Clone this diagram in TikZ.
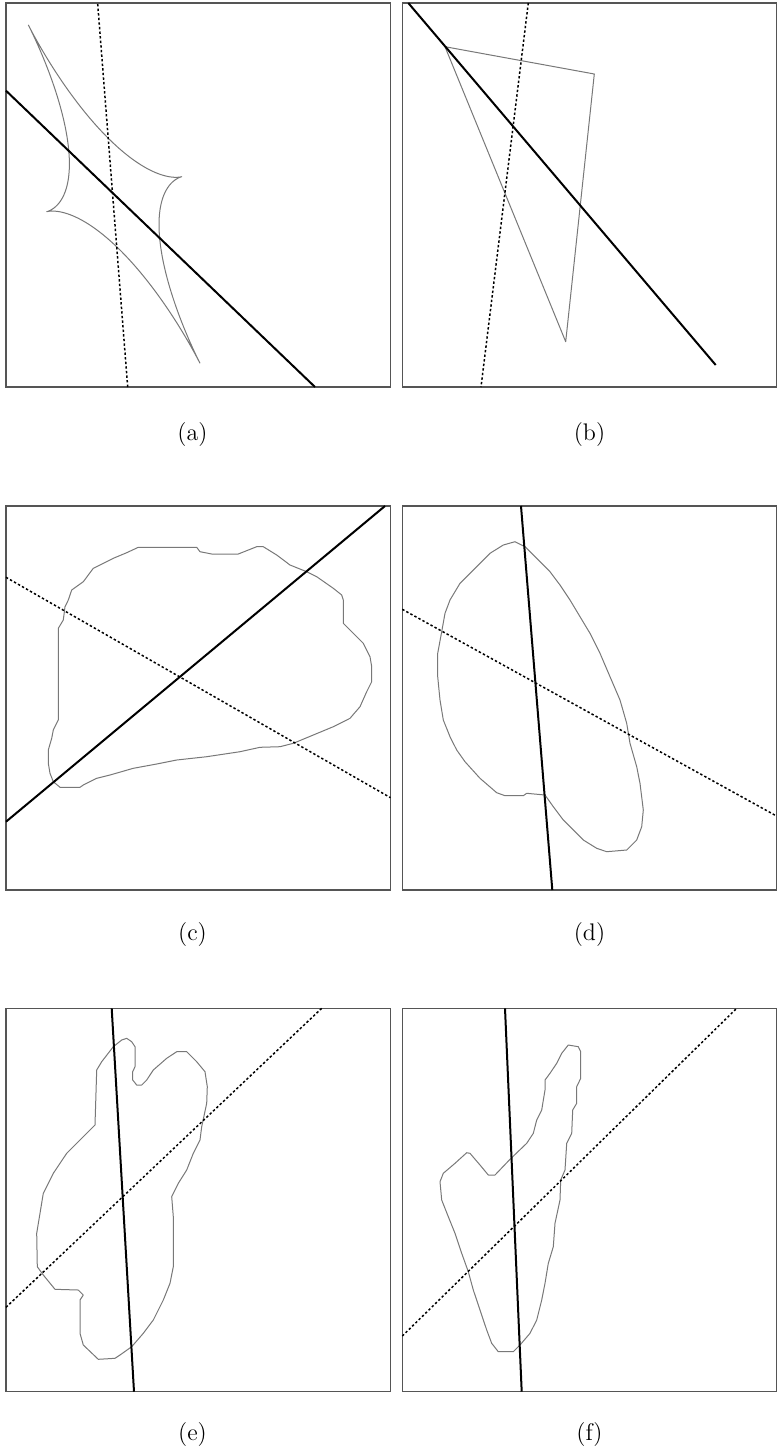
\documentclass[tikz,border=0pt]{standalone}
\usepackage{tikz}
\usetikzlibrary{positioning}
\definecolor{frameGray}{RGB}{85,85,85}
\definecolor{curveGray}{RGB}{120,120,120}
\tikzset{
  panelbox/.style={draw=frameGray,line width=0.6pt},
  majorline/.style={draw=black,line width=1pt},
  minorline/.style={draw=black,line width=0.75pt,dash pattern=on 1.2pt off 1.1pt},
  outline/.style={draw=curveGray,line width=0.5pt,line join=round},
  caption/.style={font=\large,inner sep=0pt,anchor=center},
  declare function={cc(\t)=cos(\t)*cos(\t)*cos(\t)*sqrt(abs(cos(\t)));
                    ss(\t)=sin(\t)*sin(\t)*sin(\t)*sqrt(abs(sin(\t)));}
}

\begin{document}
\begin{tikzpicture}[x=0.5pt,y=-0.5pt]
  \useasboundingbox (0,0) rectangle (777,1456);

  % frames
  \draw[panelbox] (6,3) rectangle (390.5,387);
  \draw[panelbox] (402.3,3) rectangle (776.5,387);
  \draw[panelbox] (6,506) rectangle (390.5,890);
  \draw[panelbox] (402.3,506) rectangle (776.5,890);
  \draw[panelbox] (6,1008.3) rectangle (390.5,1391.7);
  \draw[panelbox] (402.3,1008.3) rectangle (776.5,1391.7);

  % (a) four-cusp curve
  \draw[outline] plot[domain=0:360,samples=721]
    ({114.2+85.8*cc(\x)+67.5*ss(\x)},{194.2+169.1*cc(\x)-17.5*ss(\x)});
  \draw[minorline] (97.7,4) -- (127.7,387);
  \draw[majorline] (6,90.7) -- (315,387);

  % (b) triangle
  \draw[outline] (445,46.7) -- (594.3,74) -- (565.7,341.7) -- cycle;
  \draw[minorline] (528.3,3) -- (481,387);
  \draw[majorline] (408.3,3) -- (715.7,365);

  % (c) blob
  \draw[outline] (138.3,547.3) -- (196.7,547.3) -- (200,551.7) -- (211.7,554)
    -- (238.3,554) -- (256.7,546.7) -- (263.3,546.7) -- (276.7,555) -- (290,565)
    -- (306.7,571.7) -- (316.7,576.7) -- (333.3,588.3) -- (341.7,595) -- (343.3,600)
    -- (343.3,623.3) -- (353.3,633.3) -- (363.3,643.3) -- (370,656.7) -- (371.7,666.7)
    -- (371.7,681.7) -- (366.7,691.7) -- (360,706.7) -- (350,718.3) -- (333.3,726.7)
    -- (313.3,735) -- (293.3,743.3) -- (280,746.7) -- (260,747.3) -- (240,751.7)
    -- (206.7,756.7) -- (176.7,760) -- (156.7,764) -- (133.3,768.3) -- (110,775)
    -- (96.7,778.3) -- (83.3,785) -- (80,787.3) -- (60,787.3) -- (53.3,781.7)
    -- (50,773.3) -- (48.3,763.3) -- (48.3,750) -- (51.7,738.3) -- (53.3,730)
    -- (58.3,720) -- (58.3,628.3) -- (63.3,620) -- (65,606.7) -- (68.3,600)
    -- (71.7,590) -- (83.3,581.7) -- (93.3,568.3) -- (100,565) -- (113.3,558.3)
    -- (126.7,552.7) -- cycle;
  \draw[minorline] (6,577.3) -- (390.5,797.7);
  \draw[majorline] (6,821.7) -- (385,506);

  % (d) blob
  \draw[outline] (515,541.7) -- (525,546.7) -- (536.7,558.3) -- (550,571.7)
    -- (560,585) -- (570,600) -- (580,616.7) -- (590,633.3) -- (600,653.3)
    -- (610,676.7) -- (620,700) -- (626.7,723.3) -- (630,743.3) -- (636.7,766.7)
    -- (640,783.3) -- (643.3,810) -- (641.7,826.7) -- (636.7,840) -- (626.7,850)
    -- (606.7,851.7) -- (596.7,848.3) -- (583.3,840) -- (563.3,820) -- (553.3,806.7)
    -- (545,795) -- (526.7,793.3) -- (523.3,795.7) -- (505,795.7) -- (496.7,792.7)
    -- (480,778.3) -- (465,761.7) -- (456.7,750) -- (450,736.7) -- (443.3,720)
    -- (440,700) -- (437.7,676.7) -- (437.7,653.3) -- (441.7,631.7) -- (445,613.3)
    -- (450,600) -- (460,583.3) -- (473.3,570) -- (490,553.3) -- (503.3,545) -- cycle;
  \draw[minorline] (402.3,609.3) -- (776.5,816);
  \draw[majorline] (521,506) -- (552.3,890);

  % (e) blob
  \draw[outline] (126.7,1038.3) -- (131.7,1041.7) -- (135,1046.7) -- (135,1066.7)
    -- (132.7,1071.7) -- (132.7,1080) -- (136.7,1085) -- (141.7,1085) -- (146.7,1080)
    -- (153.3,1070) -- (166.7,1058.3) -- (176.7,1051.7) -- (186.7,1051.7)
    -- (196.7,1061.7) -- (205,1071.7) -- (207.3,1086.7) -- (206.7,1103.3)
    -- (201.7,1126.7) -- (200,1140) -- (193.3,1153.3) -- (186.7,1170)
    -- (178.3,1183.3) -- (171.7,1196.7) -- (173.3,1216.7) -- (173.3,1266.7)
    -- (170,1283.3) -- (163.3,1300) -- (153.3,1320) -- (143.3,1333.3)
    -- (131.7,1346.7) -- (120,1355) -- (115,1358.3) -- (98.3,1359.3) -- (83.3,1345)
    -- (80,1333.3) -- (80,1300) -- (83.3,1295) -- (78.3,1290) -- (55,1289.3)
    -- (43.3,1275) -- (37.3,1266.7) -- (36.7,1233.3) -- (40,1213.3) -- (43.3,1193.3)
    -- (53.3,1173.3) -- (66.7,1153.3) -- (80,1140) -- (95,1125) -- (96.7,1070)
    -- (101.7,1061.7) -- (113.3,1046.7) -- (121.7,1040) -- cycle;
  \draw[minorline] (6,1307.3) -- (321.7,1008.3);
  \draw[majorline] (111.7,1008.3) -- (134,1391.7);

  % (f) blob
  \draw[outline] (568.3,1045) -- (578.3,1046.7) -- (580.7,1051.7) -- (580.7,1078.3)
    -- (576.7,1086.7) -- (576.7,1103.3) -- (572.7,1110) -- (571.7,1133.3)
    -- (566.7,1143.3) -- (565,1170) -- (560.7,1180) -- (560,1200) -- (555,1223.3)
    -- (553.3,1246.7) -- (548.3,1263.3) -- (545,1283.3) -- (541.7,1300)
    -- (536.7,1320) -- (530,1333.3) -- (520,1345) -- (513.3,1351.7) -- (498.3,1351.7)
    -- (491.7,1343.3) -- (486.7,1330) -- (480,1310) -- (473.3,1290) -- (468.3,1271.7)
    -- (461.7,1253.3) -- (455,1233.3) -- (448.3,1216.7) -- (441.7,1200)
    -- (440,1181.7) -- (443.3,1173.3) -- (455,1163.3) -- (466.7,1152.7)
    -- (470,1153.3) -- (480,1165) -- (488.3,1175) -- (495,1175) -- (510,1159.3)
    -- (526.7,1143.3) -- (533.3,1133.3) -- (536.7,1120) -- (541.7,1110)
    -- (545,1090) -- (545,1080) -- (550,1073.3) -- (556.7,1063.3) -- (561.7,1053.3)
    -- cycle;
  \draw[minorline] (402.3,1336) -- (736.7,1008.3);
  \draw[majorline] (505,1008.3) -- (521.7,1391.7);

  % captions
  \node[caption] (capA) at (192.5,435) {(a)};
  \node[caption] (capB) at (589.5,435) {(b)};
  \node[caption] (capC) at (192.5,935) {(c)};
  \node[caption] (capD) at (589.5,935) {(d)};
  \node[caption] (capE) at (192.5,1434) {(e)};
  \node[caption] (capF) at (589.5,1434) {(f)};
\end{tikzpicture}
\end{document}
